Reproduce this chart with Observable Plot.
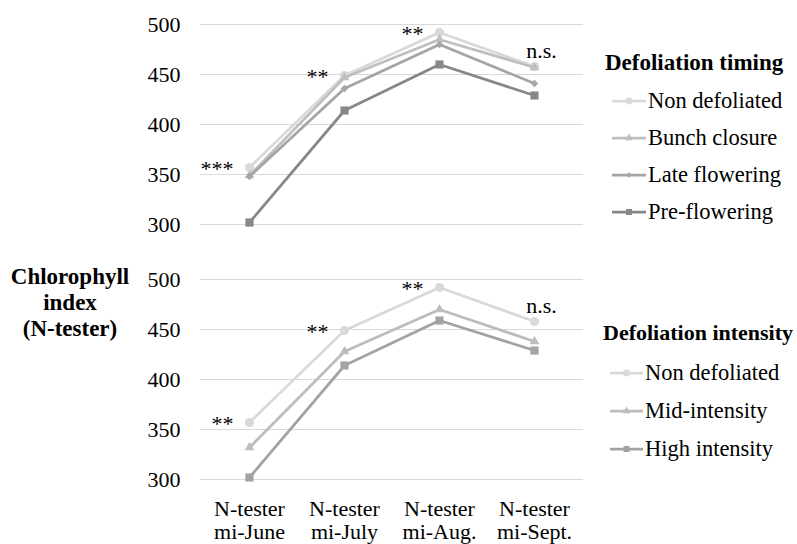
<!DOCTYPE html>
<html>
<head>
<meta charset="utf-8">
<script src="https://cdn.jsdelivr.net/npm/d3@7"></script>
<script src="https://cdn.jsdelivr.net/npm/@observablehq/plot@0.6"></script>
<style>
  body { margin: 0; background: #fff; }
  #root { position: relative; width: 797px; height: 544px; font-family: "Liberation Serif", "Times New Roman", serif; color: #000; overflow: hidden; }
  #root svg.panel { position: absolute; left: 0; }
  .ytitle { position: absolute; left: 0; width: 140px; top: 264px; text-align: center; font-weight: bold; font-size: 23px; line-height: 26px; }
  .ltitle { position: absolute; font-weight: bold; font-size: 22.5px; line-height: 26px; white-space: nowrap; }
  .litem { position: absolute; font-size: 22.5px; line-height: 26px; white-space: nowrap; }
  .litem svg { position: absolute; top: 1px; }
</style>
</head>
<body>
<div id="root"></div>
<script>
// ---------- data ----------
const months = ["mi-June", "mi-July", "mi-Aug.", "mi-Sept."];
const xTickLabels = ["N-tester\nmi-June", "N-tester\nmi-July", "N-tester\nmi-Aug.", "N-tester\nmi-Sept."];
const yTicks = [300, 350, 400, 450, 500];
const yTitle = ["Chlorophyll", "index", "(N-tester)"];

const timingTitle = "Defoliation timing";
const timingSeries = ["Non defoliated", "Bunch closure", "Late flowering", "Pre-flowering"];
const nonDefoliated = [357, 449, 492, 458];
const bunchClosure  = [349, 447, 485, 457];
const lateFlowering = [348, 436, 480, 441];
const preFlowering  = [302, 414, 460, 429];
const timingSig = ["***", "**", "**", "n.s."];

const intensityTitle = "Defoliation intensity";
const intensitySeries = ["Non defoliated", "Mid-intensity", "High intensity"];
const midIntensity  = [332, 428, 470, 438];
const highIntensity = [302, 414, 459, 429];
const intensitySig = ["**", "**", "**", "n.s."];

// ---------- styles ----------
const timingStyle = [
  {color: "#d9d9d9", symbol: "circle", r: 4.6, legendSize: 36},
  {color: "#bfbfbf", symbol: "triangle", r: 3.6, legendSize: 26},
  {color: "#a5a5a5", symbol: "diamond2", r: 3.4, legendSize: 20},
  {color: "#878787", symbol: "square", r: 4.6, legendSize: 36}
];
const intensityStyle = [
  {color: "#d9d9d9", symbol: "circle", r: 4.6, legendSize: 36},
  {color: "#bcbcbc", symbol: "triangle", r: 3.6, legendSize: 26},
  {color: "#a3a3a3", symbol: "square", r: 4.6, legendSize: 36}
];
const FONT = '"Liberation Serif", "Times New Roman", serif';

function longTable(seriesNames, valueArrays) {
  const rows = [];
  seriesNames.forEach((s, i) => valueArrays[i].forEach((v, j) => rows.push({series: s, month: months[j], value: v})));
  return rows;
}
function sigTable(sig, valueArrays) {
  return sig.map((label, j) => ({month: months[j], label, top: d3.max(valueArrays, a => a[j])}));
}

function panel({seriesNames, valueArrays, styles, sig, height, marginBottom, showX}) {
  const data = longTable(seriesNames, valueArrays);
  const sigs = sigTable(sig, valueArrays);
  const marks = [
    Plot.gridY(yTicks, {stroke: "#d9d9d9", strokeOpacity: 1, strokeWidth: 1}),
    Plot.axisY(yTicks, {tickSize: 0, tickPadding: 20, label: null}),
  ];
  if (showX) {
    marks.push(Plot.axisX({tickSize: 0, tickPadding: 21, lineHeight: 1.02, label: null,
      tickFormat: d => xTickLabels[months.indexOf(d)]}));
  }
  seriesNames.forEach((s, i) => {
    const st = styles[i];
    const rows = data.filter(d => d.series === s);
    marks.push(Plot.line(rows, {x: "month", y: "value", stroke: st.color, strokeWidth: 2.75}));
    marks.push(Plot.dot(rows, {x: "month", y: "value", fill: st.color, stroke: "none", symbol: st.symbol, r: st.r}));
  });
  marks.push(Plot.text(sigs.filter(d => d.label !== "n.s."), {x: "month", y: "top", text: "label", textAnchor: "end", dx: -16, dy: 1}));
  marks.push(Plot.text(sigs.filter(d => d.label === "n.s."), {x: "month", y: "top", text: "label", textAnchor: "middle", dx: 7, dy: -16}));
  return Plot.plot({
    width: 797,
    height,
    marginTop: 24,
    marginBottom,
    marginLeft: 200,
    marginRight: 214,
    x: {type: "point", domain: months, padding: 0.5, axis: null, label: null},
    y: {domain: [300, 500], axis: null, label: null},
    style: {fontFamily: FONT, fontSize: "22px", color: "#000", background: "transparent", overflow: "visible"},
    marks
  });
}

const root = document.getElementById("root");

const topPanel = panel({seriesNames: timingSeries, valueArrays: [nonDefoliated, bunchClosure, lateFlowering, preFlowering],
  styles: timingStyle, sig: timingSig, height: 250, marginBottom: 26, showX: false});
topPanel.classList.add("panel");
topPanel.style.top = "0px";
root.appendChild(topPanel);

const bottomPanel = panel({seriesNames: intensitySeries, valueArrays: [nonDefoliated, midIntensity, highIntensity],
  styles: intensityStyle, sig: intensitySig, height: 289, marginBottom: 65, showX: true});
bottomPanel.classList.add("panel");
bottomPanel.style.top = "255px";
root.appendChild(bottomPanel);

// y title
const yt = document.createElement("div");
yt.className = "ytitle";
yt.innerHTML = yTitle.join("<br>");
root.appendChild(yt);

// legends
const symMap = {circle: d3.symbolCircle, triangle: d3.symbolTriangle, diamond2: d3.symbolDiamond2, square: d3.symbolSquare};
function legend(title, names, styles, titleX, titleCy, titleSize, swatchX, textX, centers) {
  const t = document.createElement("div");
  t.className = "ltitle";
  t.style.left = titleX + "px";
  t.style.top = (titleCy - 13) + "px";
  t.style.fontSize = titleSize + "px";
  t.textContent = title;
  root.appendChild(t);
  names.forEach((n, i) => {
    const st = styles[i];
    const row = document.createElement("div");
    row.className = "litem";
    row.style.left = swatchX + "px";
    row.style.top = (centers[i] - 13) + "px";
    row.style.paddingLeft = (textX - swatchX) + "px";
    const w = textX - swatchX - 2;
    const svg = d3.create("svg").attr("width", w).attr("height", 24).style("left", "0px");
    svg.append("line").attr("x1", 0).attr("x2", w).attr("y1", 12).attr("y2", 12)
      .attr("stroke", st.color).attr("stroke-width", 2.75);
    svg.append("path").attr("transform", `translate(${w / 2},12)`)
      .attr("d", d3.symbol(symMap[st.symbol], st.legendSize)()).attr("fill", st.color);
    row.appendChild(svg.node());
    row.appendChild(document.createTextNode(n));
    root.appendChild(row);
  });
}
legend(timingTitle, timingSeries, timingStyle, 605, 63, 23, 612, 648, [101, 138, 175, 212]);
legend(intensityTitle, intensitySeries, intensityStyle, 603, 333, 22, 610, 645, [373, 411, 449]);
</script>
</body>
</html>
